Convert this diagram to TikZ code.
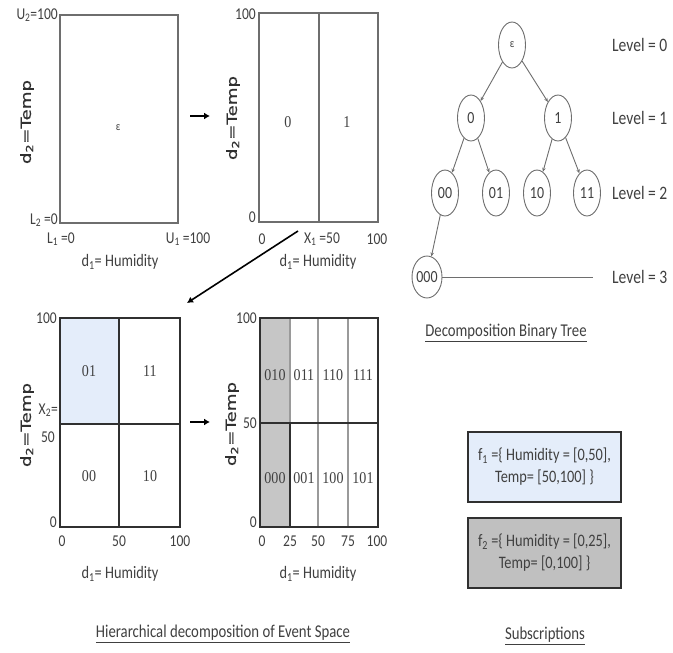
\documentclass[tikz,border=0pt]{standalone}
\usepackage{fontspec}
\setmainfont{Carlito}[FakeStretch=0.82]
\newfontfamily\serifnum{Liberation Serif}[FakeStretch=0.85]
\newfontfamily\axisfont{DejaVu Sans}[FakeBold=0.6]
\usetikzlibrary{shapes.geometric,arrows.meta}
\definecolor{txt}{HTML}{404040}
\definecolor{framec}{HTML}{6E6E6E}
\definecolor{darkc}{HTML}{303030}
\definecolor{lblue}{HTML}{E4EDFA}
\definecolor{lgray}{HTML}{C6C6C6}
\definecolor{bgray}{HTML}{C0C0C0}
\definecolor{midgray}{HTML}{9A9A9A}
\tikzset{
  frameline/.style={draw=framec, line width=1.6pt},
  darkline/.style={draw=darkc, line width=1.6pt},
  grayline/.style={draw=midgray, line width=1.8pt},
  thinline/.style={draw=framec, line width=0.9pt},
  tick/.style={text=txt, font=\fontsize{16.5}{17}\selectfont, inner sep=1pt},
  axlab/.style={text=txt, font=\fontsize{17.5}{19}\selectfont, inner sep=1pt},
  ylab/.style={text=darkc, font=\axisfont\fontsize{14}{15}\selectfont, rotate=90, inner sep=1pt},
  cell/.style={text=txt, font=\serifnum\fontsize{16.5}{17}\selectfont, inner sep=0pt},
  bigarrow/.style={-{Latex[length=6pt,width=7pt]}, line width=2.2pt, draw=black},
  tnode/.style={ellipse, draw=framec, line width=0.9pt, minimum width=27pt, minimum height=46pt, inner sep=0pt, text=txt, font=\fontsize{17}{18}\selectfont},
  tedge/.style={draw=framec, line width=0.9pt, -{Stealth[length=4pt,width=3.5pt]}},
  lvl/.style={anchor=west, text=txt, font=\fontsize{19}{20}\selectfont, inner sep=0pt},
  title/.style={text=txt, font=\fontsize{18}{19}\selectfont, inner sep=0pt},
  subbox/.style={draw=darkc, line width=1.8pt, minimum width=153pt, minimum height=70pt, align=center, text=txt, font=\fontsize{17.5}{22}\selectfont, inner sep=2pt}
}
\newcommand{\ylabtext}[1]{\scalebox{1.3}[1]{#1}}
\begin{document}
\begin{tikzpicture}[x=1pt,y=-1pt]
\useasboundingbox[fill=white] (0,0) rectangle (673,653);

% ---------- Panel 1 ----------
\draw[frameline] (60,15) rectangle (178,223);
\node[cell, font=\fontsize{12}{12}\selectfont] (eps1) at (118,128) {ε};
\node[tick, anchor=east] (p1u2) at (59,15) {U\textsubscript{2}=100};
\node[tick, anchor=east] (p1l2) at (59,220) {L\textsubscript{2} =0};
\node[tick] (p1l1) at (61,239) {L\textsubscript{1} =0};
\node[tick] (p1u1) at (188,239) {U\textsubscript{1} =100};
\node[axlab] (p1x) at (120,262) {d\textsubscript{1}= Humidity};
\node[ylab] (p1y) at (27,122) {\ylabtext{d\textsubscript{2}=Temp}};
\coordinate (a1s) at (190,116);
\coordinate (a1e) at (210,116);
\draw[bigarrow] (a1s) -- (a1e);

% ---------- Panel 2 ----------
\draw[frameline] (259,13) rectangle (378,222);
\draw[frameline] (319,13) -- (319,222);
\node[cell] (c0) at (288,122) {0};
\node[cell] (c1) at (347,122) {1};
\node[tick, anchor=east] (p2t) at (257,14) {100};
\node[tick, anchor=east] (p2b) at (257,217) {0};
\node[tick] (p2x0) at (262,239) {0};
\node[tick] (p2x1) at (322,239) {X\textsubscript{1} =50};
\node[tick] (p2x2) at (377,239) {100};
\node[axlab] (p2x) at (318,262) {d\textsubscript{1}= Humidity};
\node[ylab] (p2y) at (233,118) {\ylabtext{d\textsubscript{2}=Temp}};
\coordinate (a2s) at (298,231);
\coordinate (a2e) at (187,303);
\draw[bigarrow, line width=1.6pt] (a2s) -- (a2e);

% ---------- Panel 3 ----------
\fill[lblue] (60,318) rectangle (119,424);
\draw[darkline] (60,318) rectangle (180,527);
\draw[darkline] (119,318) -- (119,527);
\draw[darkline] (60,424) -- (180,424);
\node[cell] (c01) at (89,371) {01};
\node[cell] (c11) at (150,371) {11};
\node[cell] (c00) at (89,476) {00};
\node[cell] (c10) at (150,476) {10};
\node[tick, anchor=east] (p3t) at (58,318) {100};
\node[tick, anchor=east] (p3x2) at (59,410) {X\textsubscript{2}=};
\node[tick, anchor=east] (p3m) at (56,437) {50};
\node[tick, anchor=east] (p3b) at (58,522) {0};
\node[tick] (p3x0) at (62,541) {0};
\node[tick] (p3x1) at (119,541) {50};
\node[tick] (p3x2b) at (180,541) {100};
\node[axlab] (p3x) at (120,574) {d\textsubscript{1}= Humidity};
\node[ylab] (p3y) at (27,425) {\ylabtext{d\textsubscript{2}=Temp}};
\coordinate (a3s) at (190,422);
\coordinate (a3e) at (210,422);
\draw[bigarrow] (a3s) -- (a3e);

% ---------- Panel 4 ----------
\fill[lgray] (260,318) rectangle (290,527);
\draw[grayline] (290,318) -- (290,527);
\draw[grayline] (318,318) -- (318,527);
\draw[grayline] (348,318) -- (348,527);
\draw[darkline] (260,318) rectangle (378,527);
\draw[darkline] (260,423) -- (378,423);
\draw[darkline] (260,423) rectangle (290,527);
\node[cell] (c010) at (275,375) {010};
\node[cell] (c011) at (304,375) {011};
\node[cell] (c110) at (333,375) {110};
\node[cell] (c111) at (363,375) {111};
\node[cell] (c000) at (275,478) {000};
\node[cell] (c001) at (304,478) {001};
\node[cell] (c100) at (333,478) {100};
\node[cell] (c101) at (363,478) {101};
\node[tick, anchor=east] (p4t) at (258,318) {100};
\node[tick, anchor=east] (p4m) at (258,423) {50};
\node[tick, anchor=east] (p4b) at (258,522) {0};
\node[tick] (p4x0) at (262,541) {0};
\node[tick] (p4x1) at (290,541) {25};
\node[tick] (p4x2) at (318,541) {50};
\node[tick] (p4x3) at (348,541) {75};
\node[tick] (p4x4) at (377,541) {100};
\node[axlab] (p4x) at (318,574) {d\textsubscript{1}= Humidity};
\node[ylab] (p4y) at (232,424) {\ylabtext{d\textsubscript{2}=Temp}};

\node[title] (t1) at (223,634) {\underline{Hierarchical decomposition of Event Space}};

% ---------- Tree ----------
\node[tnode, font=\fontsize{12}{12}\selectfont] (te) at (512,45) {ε};
\node[tnode] (t0) at (471,118) {0};
\node[tnode] (t1n) at (558,118) {1};
\node[tnode] (t00) at (445,193) {00};
\node[tnode] (t01) at (496,193) {01};
\node[tnode] (t10) at (537,193) {10};
\node[tnode] (t11) at (587,193) {11};
\node[tnode, minimum height=42pt] (t000) at (427,277) {000};
\draw[tedge] (te) -- (t0);
\draw[tedge] (te) -- (t1n);
\draw[tedge] (t0) -- (t00);
\draw[tedge] (t0) -- (t01);
\draw[tedge] (t1n) -- (t10);
\draw[tedge] (t1n) -- (t11);
\draw[tedge] (t00) -- (t000);
\coordinate (lvlend) at (593,277);
\draw[thinline] (t000.east) -- (lvlend);
\node[lvl] (L0) at (612,45) {Level = 0};
\node[lvl] (L1) at (612,118) {Level = 1};
\node[lvl] (L2) at (612,193) {Level = 2};
\node[lvl] (L3) at (612,277) {Level = 3};
\node[title] (t2) at (506,333) {\underline{Decomposition Binary Tree}};

% ---------- Subscriptions ----------
\node[subbox, fill=lblue] (f1) at (544.5,467) {f\textsubscript{1} =\{ Humidity = [0,50],\\Temp= [50,100] \}};
\node[subbox, fill=bgray] (f2) at (544.5,553) {f\textsubscript{2} =\{ Humidity = [0,25],\\Temp= [0,100] \}};
\node[title] (t3) at (545,636) {\underline{Subscriptions}};
\end{tikzpicture}
\end{document}
